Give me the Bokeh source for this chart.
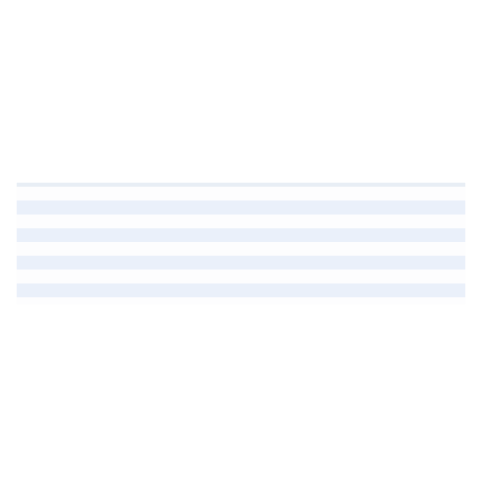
from bokeh.plotting import figure
from bokeh.models import Range1d, ColumnDataSource
from bokeh.embed import file_html
from bokeh.resources import INLINE

# data
rows = [0, 1, 2, 3, 4]
values = [100, 100, 100, 100, 100]
colors = ["#e8eef5", "#eaf0fa", "#eaf0fa", "#eaf0fa", "#eaf0fa"]

src = ColumnDataSource(dict(y=rows, right=values, color=colors))

p = figure(width=472, height=472, output_backend="svg", toolbar_location=None,
           x_range=Range1d(0, 100), y_range=Range1d(4.514, 0.094),
           min_border_left=16, min_border_right=7, min_border_top=182, min_border_bottom=168)
p.hbar(y="y", left=0, right="right", height=0.5, color="color", source=src, line_color=None)
p.axis.visible = False
p.grid.visible = False
p.outline_line_color = None
p.background_fill_color = "#fdfdfe"
p.border_fill_color = "white"

open("out.html", "w").write(file_html(p, INLINE))
